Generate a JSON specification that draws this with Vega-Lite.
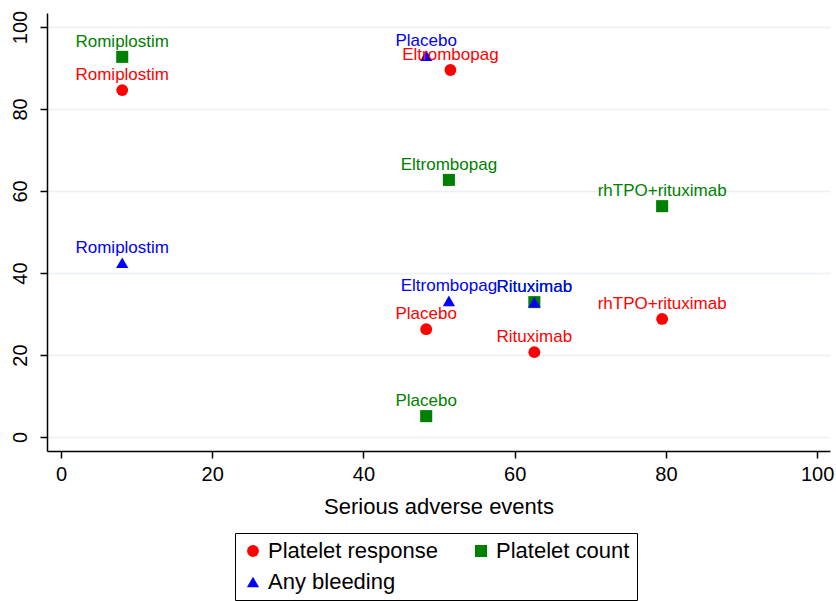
{
  "$schema": "https://vega.github.io/schema/vega-lite/v6.json",
  "width": 783,
  "height": 438,
  "autosize": {"type": "none"},
  "padding": {"left": 47, "top": 13, "right": 6, "bottom": 150},
  "background": "white",
  "config": {
    "font": "Liberation Sans",
    "view": {"stroke": null},
    "axis": {
      "domainColor": "black",
      "tickColor": "black",
      "labelColor": "black",
      "titleColor": "black",
      "labelFont": "Liberation Sans",
      "titleFont": "Liberation Sans",
      "labelFontSize": 20,
      "titleFontSize": 22,
      "titleFontWeight": "normal",
      "tickSize": 7,
      "domainWidth": 1.5,
      "tickWidth": 1.5
    },
    "legend": {
      "direction": "horizontal",
      "columns": 2,
      "strokeColor": "black",
      "strokeWidth": 1,
      "padding": 7,
      "labelFontSize": 22,
      "labelFont": "Liberation Sans",
      "labelColor": "black",
      "symbolSize": 150,
      "symbolStrokeWidth": 0,
      "labelOffset": 4,
      "columnPadding": 32,
      "rowPadding": 9,
      "title": null,
      "labelLimit": 400
    }
  },
  "data": {
    "values": [
      {"drug": "Romiplostim", "series": "Platelet response", "sae": 8.1, "value": 84.6},
      {"drug": "Eltrombopag", "series": "Platelet response", "sae": 51.5, "value": 89.5},
      {"drug": "Placebo", "series": "Platelet response", "sae": 48.3, "value": 26.3},
      {"drug": "Rituximab", "series": "Platelet response", "sae": 62.6, "value": 20.7},
      {"drug": "rhTPO+rituximab", "series": "Platelet response", "sae": 79.5, "value": 28.8},
      {"drug": "Romiplostim", "series": "Platelet count", "sae": 8.1, "value": 92.7},
      {"drug": "Eltrombopag", "series": "Platelet count", "sae": 51.3, "value": 62.7},
      {"drug": "Placebo", "series": "Platelet count", "sae": 48.3, "value": 5.1},
      {"drug": "Rituximab", "series": "Platelet count", "sae": 62.6, "value": 32.9},
      {"drug": "rhTPO+rituximab", "series": "Platelet count", "sae": 79.5, "value": 56.3},
      {"drug": "Romiplostim", "series": "Any bleeding", "sae": 8.1, "value": 42.5},
      {"drug": "Placebo", "series": "Any bleeding", "sae": 48.3, "value": 93.0},
      {"drug": "Eltrombopag", "series": "Any bleeding", "sae": 51.3, "value": 33.2},
      {"drug": "Rituximab", "series": "Any bleeding", "sae": 62.6, "value": 32.9}
    ]
  },
  "encoding": {
    "x": {
      "field": "sae", "type": "quantitative",
      "scale": {"domain": [-1.85, 101.7], "nice": false, "zero": false},
      "axis": {"values": [0, 20, 40, 60, 80, 100], "grid": false, "title": "Serious adverse events", "titlePadding": 12, "labelPadding": 6}
    },
    "y": {
      "field": "value", "type": "quantitative",
      "scale": {"domain": [-3.4, 103.4], "nice": false, "zero": false},
      "axis": {"values": [0, 20, 40, 60, 80, 100], "grid": true, "gridColor": "#eaf0f3", "gridWidth": 1.5, "title": null, "labelAngle": -90, "labelAlign": "center", "labelBaseline": "bottom", "labelPadding": 10}
    },
    "color": {
      "field": "series", "type": "nominal",
      "scale": {"domain": ["Platelet response", "Platelet count", "Any bleeding"], "range": ["#ff0000", "#008000", "#0000ff"]},
      "legend": {"orient": "none", "legendX": 188, "legendY": 520}
    }
  },
  "layer": [
    {
      "mark": {"type": "point", "filled": true, "opacity": 1},
      "encoding": {
        "shape": {
          "field": "series", "type": "nominal",
          "scale": {"domain": ["Platelet response", "Platelet count", "Any bleeding"], "range": ["circle", "square", "triangle-up"]},
          "legend": {"orient": "none", "legendX": 188, "legendY": 520}
        },
        "size": {
          "field": "series", "type": "nominal",
          "scale": {"domain": ["Platelet response", "Platelet count", "Any bleeding"], "range": [140, 150, 220]},
          "legend": null
        }
      }
    },
    {
      "mark": {"type": "text", "fontSize": 17, "dy": -15, "baseline": "middle", "align": "center"},
      "encoding": {"text": {"field": "drug"}}
    }
  ]
}
